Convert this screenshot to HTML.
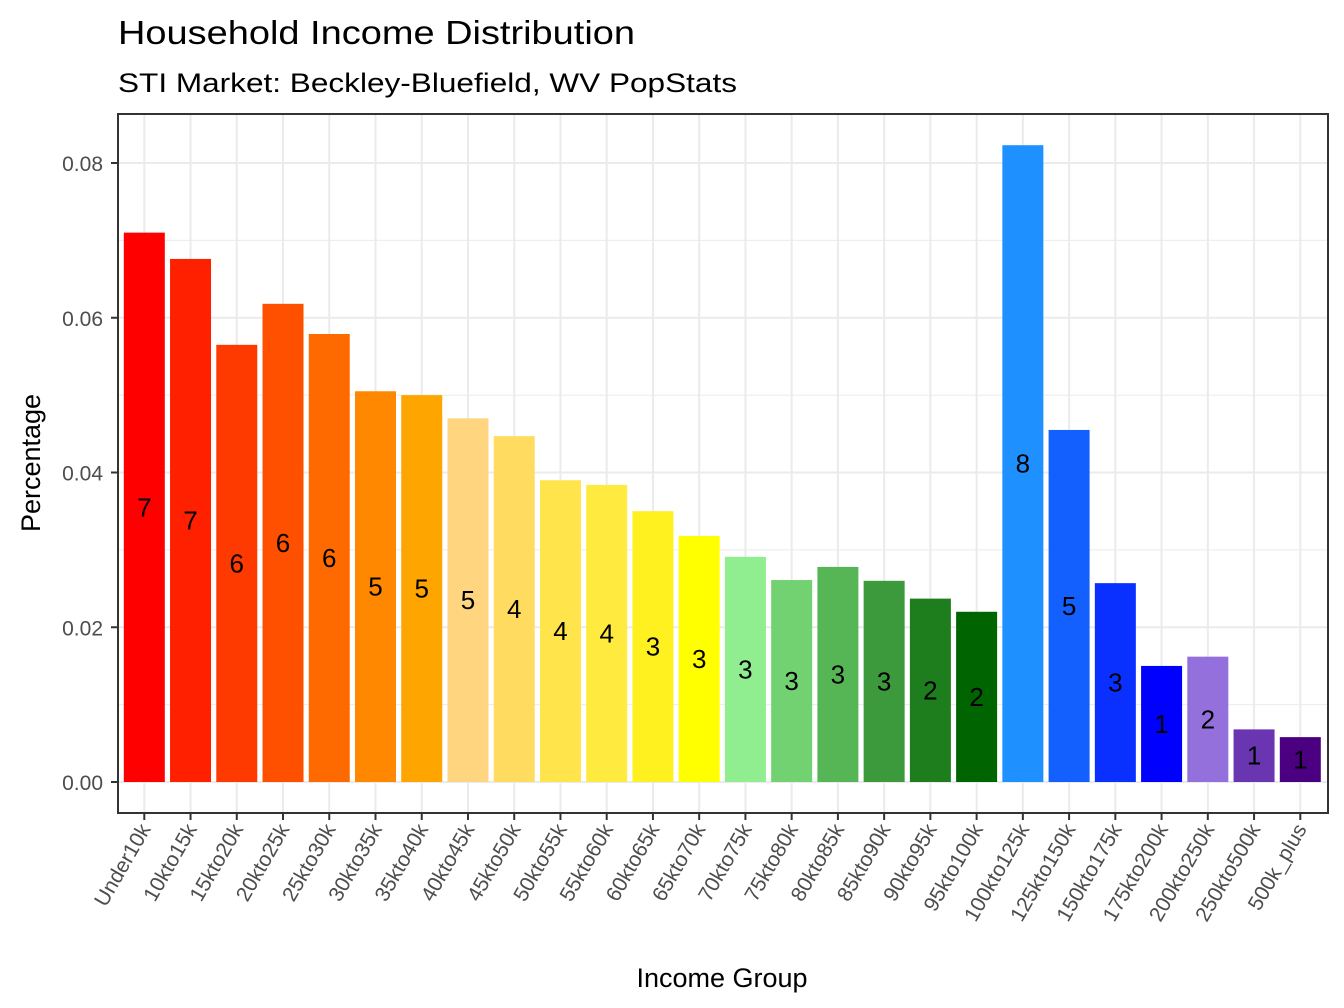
<!DOCTYPE html>
<html><head><meta charset="utf-8"><style>
body{margin:0;background:#fff}
svg{display:block;font-family:"Liberation Sans",Arial,sans-serif}
</style></head><body>
<svg id="chart" width="1344" height="1008" viewBox="0 0 1344 1008">
<rect width="1344" height="1008" fill="#fff"/>
<text x="118" y="44" font-size="33" textLength="517" lengthAdjust="spacingAndGlyphs">Household Income Distribution</text>
<text x="118" y="92" font-size="27" textLength="619" lengthAdjust="spacingAndGlyphs">STI Market: Beckley-Bluefield, WV PopStats</text>
<g id="grid"></g><g id="bars"></g><g id="labels"></g>
<rect x="118" y="114" width="1210" height="699" fill="none" stroke="#333" stroke-width="2"/>
<g id="axes"></g>
<text x="722" y="987" font-size="27" text-anchor="middle">Income Group</text>
<text transform="translate(40,463) rotate(-90)" font-size="27" text-anchor="middle">Percentage</text>
</svg>
<script>
const categories=["Under10k","10kto15k","15kto20k","20kto25k","25kto30k","30kto35k","35kto40k","40kto45k","45kto50k","50kto55k","55kto60k","60kto65k","65kto70k","70kto75k","75kto80k","80kto85k","85kto90k","90kto95k","95kto100k","100kto125k","125kto150k","150kto175k","175kto200k","200kto250k","250kto500k","500k_plus"];
const values=[0.0710,0.0676,0.0565,0.0618,0.0579,0.0505,0.0500,0.0470,0.0447,0.0390,0.0384,0.0350,0.0318,0.0291,0.0261,0.0278,0.0260,0.0237,0.0220,0.0823,0.0455,0.0257,0.0150,0.0162,0.0068,0.0058];
const barLabels=["7","7","6","6","6","5","5","5","4","4","4","3","3","3","3","3","3","2","2","8","5","3","1","2","1","1"];
const colors=["#FF0000","#FF2000","#FF3A00","#FF5000","#FF6A00","#FF8800","#FFA500","#FFD580","#FFDB60","#FFE44B","#FFEA40","#FFF020","#FFFF00","#90EE90","#72D272","#56B656","#3C9A3C","#1E7E1E","#006400","#1E90FF","#1460FF","#0A30FF","#0000FF","#9370DB","#6A35B0","#4B0082"];
const yTicks=[0,0.02,0.04,0.06,0.08];
const yTickLabels=["0.00","0.02","0.04","0.06","0.08"];
const NS="http://www.w3.org/2000/svg";
const x=i=>144.3+i*46.24;
const y=v=>782-v*7737.5;
const bw=41;
function mk(tag,attrs,parent,txt){const e=document.createElementNS(NS,tag);for(const k in attrs)e.setAttribute(k,attrs[k]);if(txt!==undefined)e.textContent=txt;parent.appendChild(e);return e;}
const grid=document.getElementById('grid'),bars=document.getElementById('bars'),labels=document.getElementById('labels'),axes=document.getElementById('axes');
for(let v=0.01;v<0.09;v+=0.02){const g=mk('line',{x1:118,x2:1328,y1:y(v),y2:y(v),stroke:'#ebebeb','stroke-width':1},grid);}
yTicks.forEach((t,i)=>{
 const g=mk('line',{x1:118,x2:1328,y1:y(t),y2:y(t),stroke:'#ebebeb','stroke-width':2},grid);
 
 
 const tk=mk('line',{x1:111,x2:118,y1:y(t),y2:y(t),stroke:'#333','stroke-width':2},axes);
 
 
 const tl=mk('text',{x:103,y:y(t)+8,'font-size':21,fill:'#4d4d4d','text-anchor':'end'},axes,yTickLabels[i]);
 
 
});
categories.forEach((c,i)=>{
 const g=mk('line',{x1:x(i),x2:x(i),y1:114,y2:813,stroke:'#ebebeb','stroke-width':2},grid);
 
 
 const b=mk('rect',{x:x(i)-bw/2,y:y(values[i]),width:bw,height:y(0)-y(values[i]),fill:colors[i]},bars);
 
 
 const l=mk('text',{x:x(i),y:y(values[i]/2)+9,'font-size':26,'text-anchor':'middle',fill:'#000'},labels,barLabels[i]);
 
 
 const tk=mk('line',{x1:x(i),x2:x(i),y1:813,y2:820,stroke:'#333','stroke-width':2},axes);
 
 
 const tl=mk('text',{transform:`translate(${x(i)+7},${829}) rotate(-60)`,'font-size':21,fill:'#4d4d4d','text-anchor':'end'},axes,c);
 
 
});
</script>
</body></html>
